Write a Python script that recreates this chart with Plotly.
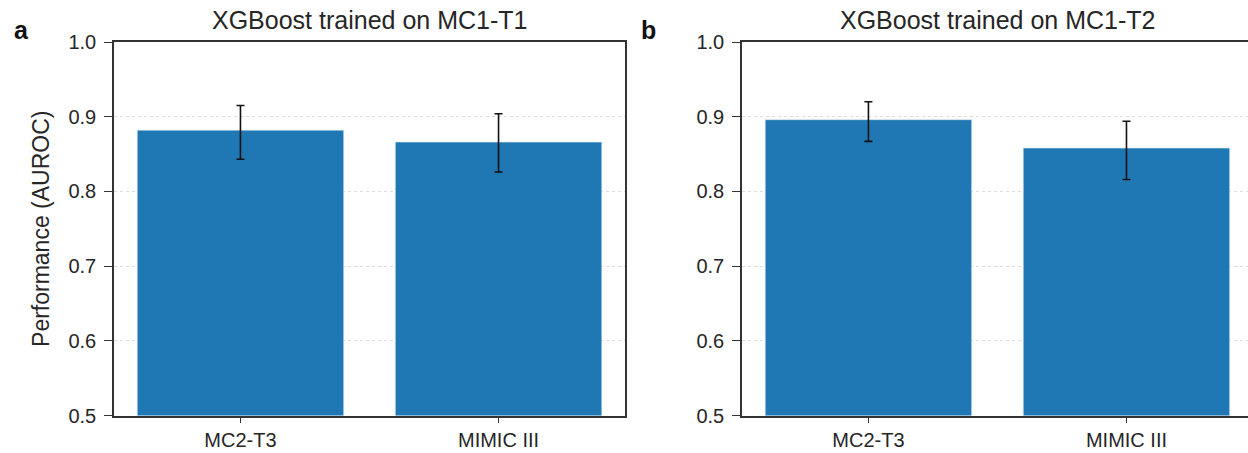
import plotly.graph_objects as go

categories = ["MC2-T3", "MIMIC III"]

# Panel a: XGBoost trained on MC1-T1
a_values = [0.882, 0.866]
a_ci_low = [0.843, 0.826]
a_ci_high = [0.915, 0.904]

# Panel b: XGBoost trained on MC1-T2
b_values = [0.896, 0.858]
b_ci_low = [0.867, 0.816]
b_ci_high = [0.920, 0.894]

y_ticks = [0.5, 0.6, 0.7, 0.8, 0.9, 1.0]
y_ticktext = ["0.5", "0.6", "0.7", "0.8", "0.9", "1.0"]

BAR = "#1f77b4"
TXT = "#262626"
AX = "#333333"
FONT = "Liberation Sans, Arial, Helvetica, sans-serif"

W, H = 1248, 453


def bar_trace(vals, lo, hi, xa, ya):
    return go.Bar(
        x=categories, y=vals, width=0.8,
        marker=dict(color=BAR, line=dict(color="#d6e6f3", width=0.6)),
        error_y=dict(type="data", symmetric=False,
                     array=[h - v for h, v in zip(hi, vals)],
                     arrayminus=[v - l for v, l in zip(vals, lo)],
                     color="#111111", thickness=1.6, width=4),
        xaxis=xa, yaxis=ya, showlegend=False,
    )


fig = go.Figure()
fig.add_trace(bar_trace(a_values, a_ci_low, a_ci_high, "x", "y"))
fig.add_trace(bar_trace(b_values, b_ci_low, b_ci_high, "x2", "y2"))

y_dom = [1 - 415.5 / H, 1 - 42 / H]
xa_dom = [114 / W, 625 / W]
xb_dom = [742 / W, 1.0]

xcommon = dict(
    type="category", showline=True, linecolor=AX, linewidth=1.5,
    ticks="outside", ticklen=6, tickwidth=1.2, tickcolor=AX,
    tickfont=dict(size=20, color=TXT, family=FONT),
    showgrid=False, zeroline=False, mirror=True,
    ticklabelstandoff=0, automargin=False,
)
ycommon = dict(
    range=[0.5, 1.0], tickvals=y_ticks, ticktext=y_ticktext,
    showline=True, linecolor=AX, linewidth=1.5,
    ticks="outside", ticklen=8, tickwidth=1.2, tickcolor=AX,
    tickfont=dict(size=20, color=TXT, family=FONT),
    showgrid=True, gridcolor="#dcdcdc", gridwidth=1, griddash="dot",
    zeroline=False, ticklabelstandoff=4, automargin=False,
)

fig.update_layout(
    width=W, height=H,
    margin=dict(l=0, r=0, t=0, b=0, autoexpand=False),
    paper_bgcolor="white", plot_bgcolor="white",
    font=dict(family=FONT, color=TXT),
    bargap=0.2,
    xaxis=dict(domain=xa_dom, range=[-0.49, 1.49], anchor="y", **xcommon),
    yaxis=dict(domain=y_dom, anchor="x", mirror=True,
               title=dict(text="Performance (AUROC)",
                          font=dict(size=23, color=TXT, family=FONT),
                          standoff=12),
               **ycommon),
    xaxis2=dict(domain=xb_dom, range=[-0.49, 1.471], anchor="y2", **xcommon),
    yaxis2=dict(domain=y_dom, anchor="x2", mirror=False, **ycommon),
)

# Titles and panel letters
fig.add_annotation(text="XGBoost trained on MC1-T1", xref="paper", yref="paper",
                   x=(xa_dom[0] + xa_dom[1]) / 2, y=y_dom[1], yshift=6,
                   xanchor="center", yanchor="bottom", showarrow=False,
                   font=dict(size=25, color=TXT, family=FONT))
fig.add_annotation(text="XGBoost trained on MC1-T2", xref="paper", yref="paper",
                   x=(742 + 1252) / 2 / W, y=y_dom[1], yshift=6,
                   xanchor="center", yanchor="bottom", showarrow=False,
                   font=dict(size=25, color=TXT, family=FONT))
fig.add_annotation(text="<b>a</b>", xref="paper", yref="paper",
                   x=12 / W, y=1 - 46 / H, xanchor="left", yanchor="bottom",
                   showarrow=False, font=dict(size=25, color="#111111", family=FONT))
fig.add_annotation(text="<b>b</b>", xref="paper", yref="paper",
                   x=639 / W, y=1 - 46 / H, xanchor="left", yanchor="bottom",
                   showarrow=False, font=dict(size=25, color="#111111", family=FONT))

fig.write_html(
    "out.html",
    config={"displayModeBar": False},
    post_script="document.body.style.margin='0';document.body.style.overflow='hidden';",
)
